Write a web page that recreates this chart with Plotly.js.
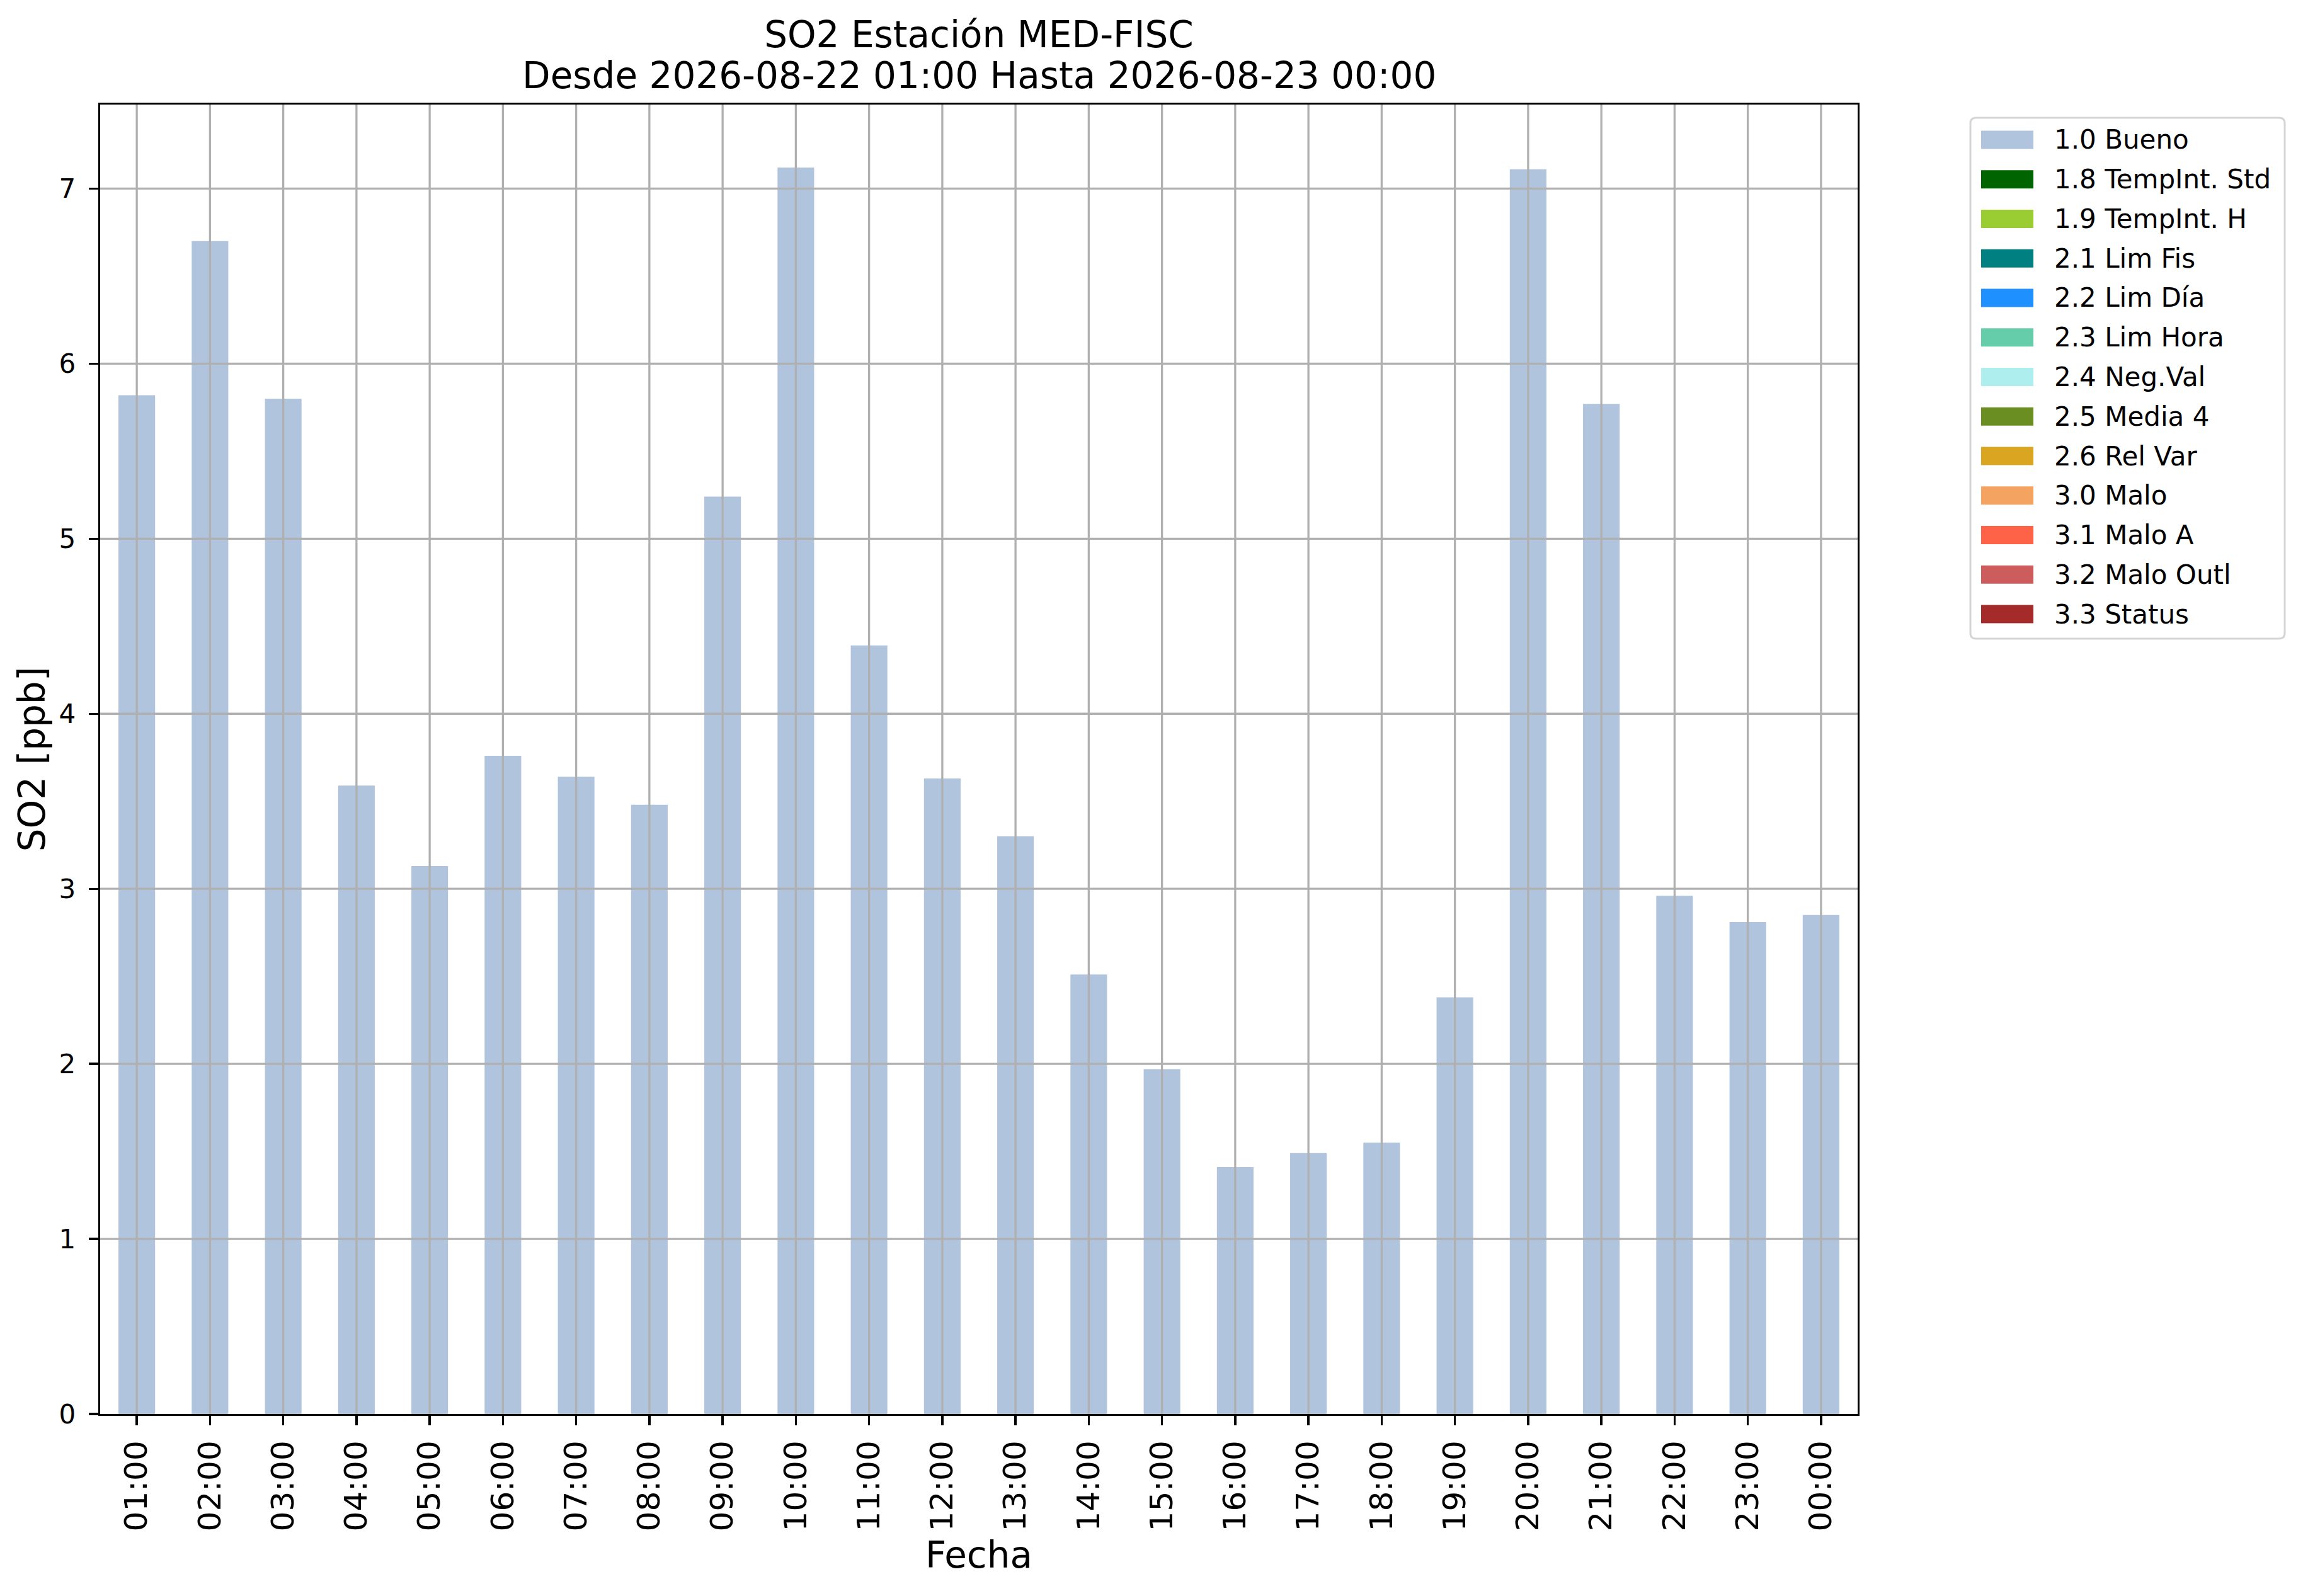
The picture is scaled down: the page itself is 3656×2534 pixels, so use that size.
<!DOCTYPE html>
<html>
<head>
<meta charset="utf-8">
<script src="https://cdn.plot.ly/plotly-3.0.1.min.js"></script>
<style>html,body{margin:0;padding:0;background:#fff;}</style>
</head>
<body>
<div id="chart" style="width:3656px;height:2534px;"></div>
<script>
// ---- data ----
const hours = ['01:00','02:00','03:00','04:00','05:00','06:00','07:00','08:00','09:00','10:00','11:00','12:00',
               '13:00','14:00','15:00','16:00','17:00','18:00','19:00','20:00','21:00','22:00','23:00','00:00'];
const so2 = [5.82,6.70,5.80,3.59,3.13,3.76,3.64,3.48,5.24,7.12,4.39,3.63,
             3.30,2.51,1.97,1.41,1.49,1.55,2.38,7.11,5.77,2.96,2.81,2.85];
const yTicks = [0,1,2,3,4,5,6,7];
const legendLabels = ['1.0 Bueno','1.8 TempInt. Std','1.9 TempInt. H','2.1 Lim Fis','2.2 Lim Día','2.3 Lim Hora',
                      '2.4 Neg.Val','2.5 Media 4','2.6 Rel Var','3.0 Malo','3.1 Malo A','3.2 Malo Outl','3.3 Status'];
const legendColors = ['#b0c4de','#006400','#9acd32','#008080','#1e90ff','#66cdaa',
                      '#afeeee','#6b8e23','#daa520','#f4a460','#ff6347','#cd5c5c','#a52a2a'];
const titleLines = ['SO2 Estación MED-FISC','Desde 2026-08-22 01:00 Hasta 2026-08-23 00:00'];

// ---- layout geometry (pixels) ----
const W = 3656, H = 2534;
const L = 159, R = 2949, T = 166, B = 2245;
const px = x => (x - L) / (R - L);
const py = y => (B - y) / (B - T);
const FONT = 'DejaVu Sans, Verdana, sans-serif';
const GRID = '#b0b0b0';

const trace = {
  type: 'bar',
  x: hours,
  y: so2,
  marker: {color: legendColors[0], line: {width: 0}},
  name: legendLabels[0],
  showlegend: false,
  hoverinfo: 'x+y'
};

const shapes = [];
// gridlines above bars (matplotlib draws grid over patches)
hours.forEach(h => shapes.push({type:'line', layer:'above', xref:'x', yref:'y domain', x0:h, x1:h, y0:0, y1:1,
  line:{color:GRID, width:3.3}}));
yTicks.filter(v => v > 0).forEach(v => shapes.push({type:'line', layer:'above', xref:'x domain', yref:'y', x0:0, x1:1, y0:v, y1:v,
  line:{color:GRID, width:3.3}}));

// legend box
const lb = {x0: 3128, x1: 3627, y0: 187, y1: 1014, r: 9};
const rx = lb.r / (R - L), ry = lb.r / (B - T);
const X0 = px(lb.x0), X1 = px(lb.x1), Yt = py(lb.y0), Yb = py(lb.y1);
shapes.push({type:'path', xref:'paper', yref:'paper', layer:'above',
  path: `M${X0+rx},${Yt} L${X1-rx},${Yt} Q${X1},${Yt} ${X1},${Yt-ry} L${X1},${Yb+ry} Q${X1},${Yb} ${X1-rx},${Yb} ` +
        `L${X0+rx},${Yb} Q${X0},${Yb} ${X0},${Yb+ry} L${X0},${Yt-ry} Q${X0},${Yt} ${X0+rx},${Yt} Z`,
  fillcolor:'rgba(255,255,255,0.8)', line:{color:'#d5d5d5', width:3}});

const annotations = [];
const rowTop = 222, rowPitch = 62.75;
legendLabels.forEach((lab, i) => {
  const cy = rowTop + i * rowPitch;
  shapes.push({type:'rect', xref:'paper', yref:'paper', layer:'above',
    x0: px(3145), x1: px(3228), y0: py(cy + 14.5), y1: py(cy - 14.5),
    fillcolor: legendColors[i], line:{width:0}});
  annotations.push({xref:'paper', yref:'paper', x: px(3259), y: py(cy), xanchor:'left', yanchor:'middle',
    text: lab, showarrow:false, font:{family:FONT, size:42, color:'#000'}});
});
// second title line
annotations.push({xref:'paper', yref:'paper', x: 0.5, y: py(120), xanchor:'center', yanchor:'middle',
  text: titleLines[1], showarrow:false, font:{family:FONT, size:58, color:'#000'}});

const layout = {
  width: W, height: H,
  margin: {l: L, r: W - R, t: T, b: H - B, autoexpand: false},
  paper_bgcolor: '#fff', plot_bgcolor: '#fff',
  showlegend: false,
  bargap: 0.5,
  barmode: 'stack',
  font: {family: FONT, color: '#000'},
  title: {text: titleLines[0], x: (L + R) / 2 / W, xanchor: 'center', xref: 'container',
          y: 1 - 55 / H, yanchor: 'middle', yref: 'container', font: {family: FONT, size: 58, color: '#000'}},
  xaxis: {
    type: 'category', range: [-0.5, hours.length - 0.5], autorange: false,
    showgrid: false, zeroline: false,
    showline: true, linecolor: '#000', linewidth: 3.3, mirror: true,
    ticks: 'outside', ticklen: 15, tickwidth: 3.3, tickcolor: '#000',
    tickangle: -90, tickfont: {family: FONT, size: 50, color: '#000'}, ticklabelstandoff: 4,
    title: {text: 'Fecha', font: {family: FONT, size: 58, color: '#000'}, standoff: 19},
    automargin: false
  },
  yaxis: {
    range: [0, 7.48], autorange: false,
    tickvals: yTicks, ticktext: yTicks.map(String),
    showgrid: false, zeroline: false,
    showline: true, linecolor: '#000', linewidth: 3.3, mirror: true,
    ticks: 'outside', ticklen: 15, tickwidth: 3.3, tickcolor: '#000',
    tickfont: {family: FONT, size: 42, color: '#000'}, ticklabelstandoff: 12,
    title: {text: 'SO2 [ppb]', font: {family: FONT, size: 58, color: '#000'}, standoff: 4},
    automargin: false
  },
  shapes: shapes,
  annotations: annotations
};

Plotly.newPlot('chart', [trace], layout, {displayModeBar: false, staticPlot: true});
</script>
</body>
</html>
